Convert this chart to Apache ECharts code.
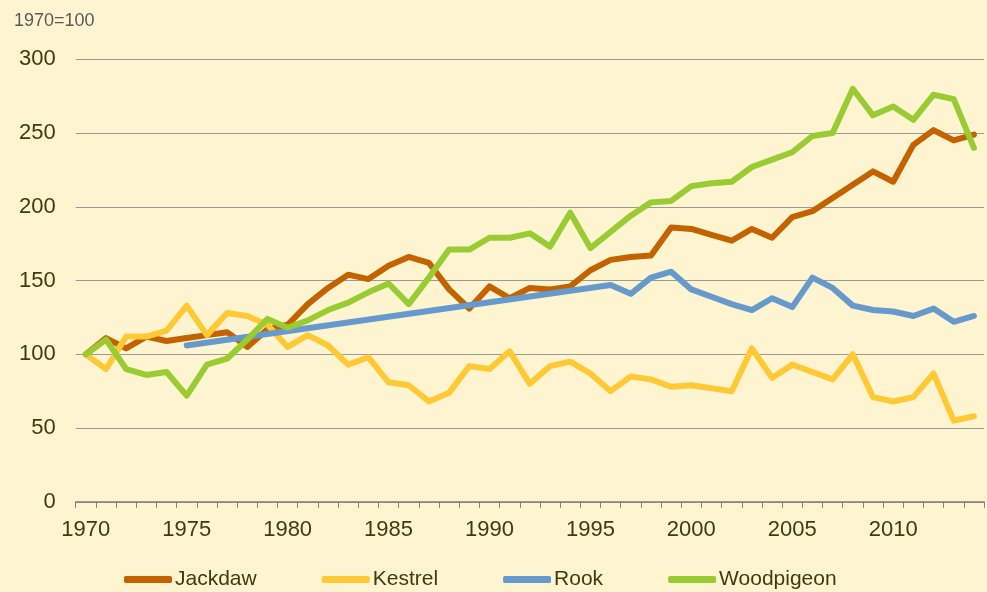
<!DOCTYPE html>
<html>
<head>
<meta charset="utf-8">
<script src="https://cdn.jsdelivr.net/npm/echarts@6/dist/echarts.min.js"></script>
<style>
html,body{margin:0;padding:0;background:#FEF5D0;}
#chart{width:987px;height:592px;}
</style>
</head>
<body>
<div id="chart"></div>
<script>
const years = [];
for (let y = 1970; y <= 2014; y++) years.push(String(y));

const seriesNames = ['Jackdaw', 'Kestrel', 'Rook', 'Woodpigeon'];

const jackdaw = [100,111,104,112,109,111,113,115,105,117,120,134,145,154,151,160,166,162,144,131,146,138,145,144,146,157,164,166,167,186,185,181,177,185,179,193,197,206,215,224,217,242,252,245,249];
const kestrel = [100,90,112,112,116,133,113,128,126,120,105,113,106,93,98,81,79,68,74,92,90,102,80,92,95,87,75,85,83,78,79,77,75,104,84,93,88,83,100,71,68,71,87,55,58];
const rook = [null,null,null,null,null,106,null,null,null,null,null,null,null,null,null,null,null,null,null,null,null,null,null,null,null,null,147,141,152,156,144,139,134,130,138,132,152,145,133,130,129,126,131,122,126];
const woodpigeon = [100,110,90,86,88,72,93,97,110,124,118,123,130,135,142,148,134,152,171,171,179,179,182,173,196,172,183,194,203,204,214,216,217,227,232,237,248,250,280,262,268,259,276,273,240];

const yTicks = [0, 50, 100, 150, 200, 250, 300];
const colors = ['#C46200', '#FFC935', '#6699CC', '#99CC33'];
const dataSets = [jackdaw, kestrel, rook, woodpigeon];

const chart = echarts.init(document.getElementById('chart'));
const textColor = '#3D3B10';
const ff = 'Liberation Sans, Arial, sans-serif';

chart.setOption({
  backgroundColor: '#FEF5D0',
  animation: false,
  textStyle: { fontFamily: ff },
  grid: { left: 75.7, right: 3, top: 59.3, bottom: 90.2, containLabel: false },
  title: {
    text: '1970=100',
    left: 9, top: 7,
    textStyle: { fontSize: 18, fontWeight: 'normal', color: '#595959', fontFamily: ff }
  },
  legend: {
    bottom: -3,
    left: 119,
    itemGap: 65,
    itemWidth: 48,
    itemHeight: 7,
    icon: 'roundRect',
    data: seriesNames,
    textStyle: { fontSize: 21, color: textColor, padding: [0, 0, 0, -2], fontFamily: ff }
  },
  xAxis: {
    type: 'category',
    data: years,
    boundaryGap: true,
    axisLine: { lineStyle: { color: '#7F7F7F', width: 1.5 } },
    axisTick: { show: true, interval: 0, length: 6, lineStyle: { color: '#7F7F7F' } },
    axisLabel: { interval: 4, fontSize: 22, color: textColor, margin: 17 }
  },
  yAxis: {
    type: 'value',
    min: yTicks[0],
    max: yTicks[yTicks.length - 1],
    interval: 50,
    axisLine: { show: false },
    axisTick: { show: false },
    axisLabel: { fontSize: 22, color: textColor, margin: 20, verticalAlign: 'middle', padding: [6, 0, 0, 0] },
    splitLine: { lineStyle: { color: '#9A9A9A', width: 1 } }
  },
  series: seriesNames.map((name, i) => ({
    name: name,
    type: 'line',
    data: dataSets[i],
    connectNulls: true,
    showSymbol: false,
    symbol: 'none',
    smooth: false,
    color: colors[i],
    lineStyle: { width: 6, color: colors[i], cap: 'round', join: 'round' },
    itemStyle: { color: colors[i] }
  }))
});
</script>
</body>
</html>
